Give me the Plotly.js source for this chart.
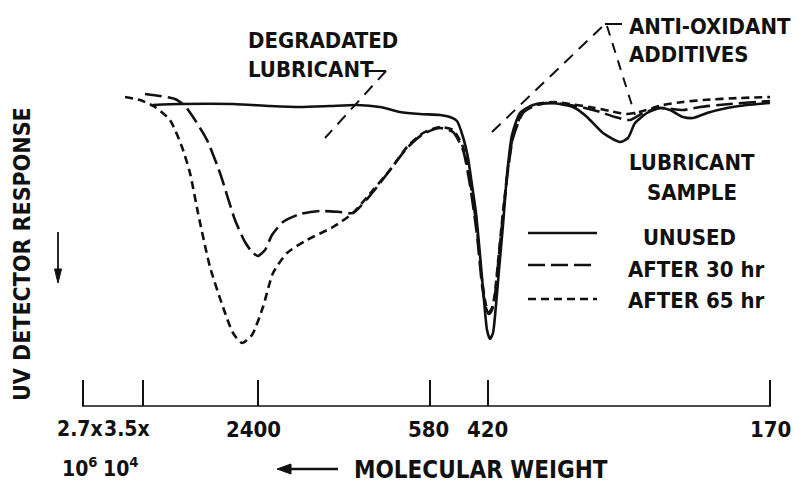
<!DOCTYPE html>
<html>
<head>
<meta charset="utf-8">
<script src="https://cdn.plot.ly/plotly-3.0.1.min.js"></script>
<style>
  html, body { margin: 0; padding: 0; background: #ffffff; }
  #chart { width: 799px; height: 490px; }
</style>
</head>
<body>
<div id="chart"></div>
<script>
// ---- Data (elution position on the chromatogram, detector response; response grows downward) ----
const seriesNames = ['UNUSED', 'AFTER 30 hr', 'AFTER 65 hr'];

const unusedX = [153, 180, 233, 270, 300, 330, 357, 380, 400, 420, 440, 450, 457, 463, 468, 472, 476, 480, 484, 487, 490, 493, 496, 499, 503, 507, 512, 520, 533, 547, 560, 575, 587, 603, 620, 628, 635, 647, 660, 670, 683, 693, 707, 727, 747, 770];
const unusedY = [1, 0, 0, 2, 3, 2, 1, 3, 8, 10, 11, 13, 17, 33, 54, 81, 109, 151, 196, 226, 235, 229, 201, 166, 121, 71, 31, 9, 1, -1, 0, 4, 13, 29, 38, 34, 19, 9, 4, 6, 13, 14, 9, 4, 1, -1];

const after30X = [145, 160, 175, 185, 195, 207, 220, 235, 245, 252, 258, 265, 272, 283, 300, 320, 340, 353, 373, 390, 407, 423, 440, 453, 463, 470, 477, 482, 486, 489, 492, 495, 498, 503, 508, 513, 523, 537, 553, 570, 585, 600, 615, 630, 643, 660, 683, 700, 730, 770];
const after30Y = [-10, -8, -5, 2, 16, 36, 69, 116, 138, 148, 152, 146, 131, 118, 110, 107, 108, 109, 88, 66, 44, 30, 24, 28, 46, 81, 131, 181, 204, 210, 206, 191, 161, 111, 66, 34, 9, 1, -1, 1, 4, 8, 13, 16, 9, 4, 6, 3, 0, -3];

const after65X = [125, 140, 155, 170, 182, 190, 198, 210, 223, 233, 242, 252, 263, 273, 287, 307, 333, 353, 373, 390, 407, 423, 440, 453, 463, 470, 477, 482, 486, 489, 492, 495, 498, 503, 508, 513, 523, 537, 553, 570, 590, 610, 627, 643, 663, 683, 703, 740, 770];
const after65Y = [-7, -4, 3, 16, 43, 69, 109, 163, 203, 229, 239, 231, 203, 169, 149, 136, 123, 109, 86, 66, 43, 29, 23, 26, 43, 76, 126, 176, 201, 208, 204, 189, 158, 108, 64, 32, 8, 0, -2, 0, 3, 7, 10, 7, 1, -2, -4, -6, -7];

// Molecular-weight scale (tick positions along the elution axis and their labels)
const mwTickPos = [83, 143, 258, 430, 488, 770];
const mwTickText = ['2.7x', '3.5x', '2400', '580', '420', '170'];
const mwTickExp = ['10<sup>6</sup>', '10<sup>4</sup>', '', '', '', ''];

// ---- Styling ----
const FONT = 'Liberation Sans Narrow, DejaVu Sans Condensed, Arial Narrow, sans-serif';
const BLK = '#111111';
const LW = 2.6;
const dash30 = '17px,6px';
const dash65 = '8px,5px';
const R = py => py - 104;   // figure row -> response units (layout helper for labels)

const traces = [
  { x: unusedX, y: unusedY, name: seriesNames[0], mode: 'lines',
    line: { color: BLK, width: LW, shape: 'spline', smoothing: 0.6 } },
  { x: after30X, y: after30Y, name: seriesNames[1], mode: 'lines',
    line: { color: BLK, width: LW, dash: dash30, shape: 'spline', smoothing: 0.6 } },
  { x: after65X, y: after65Y, name: seriesNames[2], mode: 'lines',
    line: { color: BLK, width: LW, dash: dash65, shape: 'spline', smoothing: 0.6 } }
];

function txt(text, x, py, opts) {
  return Object.assign({
    text: text, x: x, y: R(py), xref: 'x', yref: 'y', showarrow: false,
    xanchor: 'left', yanchor: 'middle',
    font: { family: FONT, size: 22, color: BLK, weight: 'bold' }
  }, opts || {});
}
const big = s => ({ family: FONT, size: s, color: BLK, weight: 'bold' });

const annotations = [
  txt('DEGRADATED', 246, 40),
  txt('LUBRICANT', 246, 69),
  txt('ANTI-OXIDANT', 627, 26),
  txt('ADDITIVES', 627, 54),
  txt('LUBRICANT', 692, 162, { xanchor: 'center' }),
  txt('SAMPLE', 692, 192, { xanchor: 'center' }),
  txt(seriesNames[0], 689, 237, { xanchor: 'center' }),
  txt(seriesNames[1], 626, 269),
  txt(seriesNames[2], 626, 300),
  txt('MOLECULAR WEIGHT', 352, 470, { font: big(24) }),
  txt('UV DETECTOR RESPONSE', 22, 254, { xanchor: 'center', textangle: -90, font: big(23) })
];

const labelShift = [-3, -16, -5, -2, -1, 0];
const expShift = [-3, -22, 0, 0, 0, 0];
mwTickPos.forEach((p, i) => {
  annotations.push(txt(mwTickText[i], p, 429, { xanchor: 'center', xshift: labelShift[i], font: big(i < 2 ? 21 : 22) }));
  if (mwTickExp[i]) {
    annotations.push(txt(mwTickExp[i], p, 467, { xanchor: 'center', xshift: expShift[i], font: big(21) }));
  }
});

function seg(x0, y0, x1, y1, w, dash) {
  return { type: 'line', xref: 'x', yref: 'y', x0: x0, y0: R(y0), x1: x1, y1: R(y1),
           line: { color: BLK, width: w, dash: dash || 'solid' } };
}
function tri(pts) {
  const d = 'M' + pts.map(p => p[0] + ',' + R(p[1])).join(' L') + ' Z';
  return { type: 'path', xref: 'x', yref: 'y', path: d, fillcolor: BLK, line: { color: BLK, width: 1 } };
}

const shapes = [
  // molecular-weight axis baseline
  seg(82, 406, 771, 406, 1.6),
  // DEGRADATED LUBRICANT pointer
  seg(367, 71, 386, 71, 2),
  seg(386, 71, 325, 138, 2, '12px,8px'),
  // ANTI-OXIDANT ADDITIVES pointers
  seg(492, 132, 605, 24, 2, '12px,8px'),
  seg(605, 24, 622, 24, 2),
  seg(607, 26, 635, 115, 2, '10px,8px'),
  // legend samples
  seg(528, 233, 597, 233, LW),
  seg(528, 265, 597, 265, LW, dash30),
  seg(528, 299, 597, 299, LW, dash65),
  // arrow: toward higher molecular weight
  seg(288, 469, 338, 469, 2.4),
  tri([[277, 469], [291, 464], [291, 474]]),
  // arrow: detector response increases downward
  seg(58, 232, 58, 270, 1.8),
  tri([[58, 283], [54.5, 269], [61.5, 269]])
];

const layout = {
  width: 799, height: 490,
  margin: { l: 0, r: 0, t: 0, b: 0 },
  paper_bgcolor: '#ffffff', plot_bgcolor: '#ffffff',
  showlegend: false,
  xaxis: {
    range: [0, 799], domain: [0, 1], anchor: 'free', position: 84 / 490,
    showgrid: false, zeroline: false, showline: false,
    tickmode: 'array', tickvals: mwTickPos, showticklabels: false,
    ticks: 'inside', ticklen: 26, tickwidth: 1.6, tickcolor: BLK
  },
  yaxis: { range: [386, -104], visible: false, showgrid: false, zeroline: false },
  annotations: annotations,
  shapes: shapes
};

Plotly.newPlot('chart', traces, layout, { staticPlot: true, displayModeBar: false });
</script>
</body>
</html>
